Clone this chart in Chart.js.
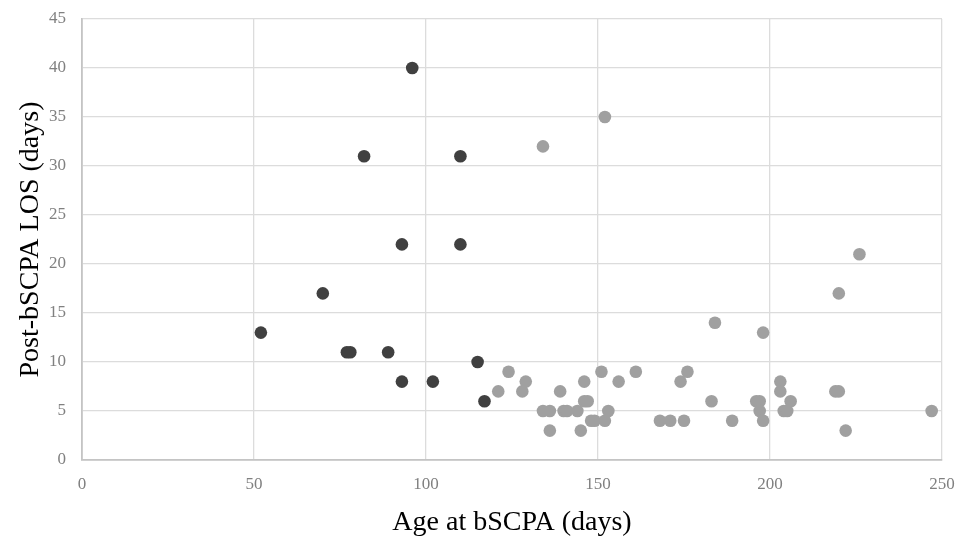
<!DOCTYPE html>
<html lang="en">
<head>
    <meta charset="UTF-8">
    <title>Post-bSCPA LOS vs Age at bSCPA</title>
    <script src="https://cdn.jsdelivr.net/npm/chart.js"></script>
    <style>
        html, body {
            margin: 0;
            padding: 0;
            background: #ffffff;
        }
        #wrap {
            width: 972px;
            height: 539px;
        }
    </style>
</head>
<body>
    <div id="wrap"><canvas id="scatterChart" width="972" height="539"></canvas></div>

    <script>
        // Dark group (age in days, post-bSCPA length of stay in days)
        const darkAge = [52, 70, 77, 78, 82, 89, 93, 93, 96, 102, 110, 110, 115, 117];
        const darkLos = [13, 17, 11, 11, 31, 11, 22, 8, 40, 8, 31, 22, 10, 6];

        // Light group
        const lightAge = [121, 124, 128, 129, 134, 134, 136, 136, 139, 140, 141, 144, 145, 146,
                          146, 147, 148, 149, 151, 152, 152, 153, 156, 161, 168, 171, 174, 175,
                          176, 183, 184, 189, 196, 197, 197, 198, 198, 203, 203, 204, 205, 206,
                          219, 220, 220, 222, 226, 247];
        const lightLos = [7, 9, 7, 8, 32, 5, 5, 3, 7, 5, 5, 5, 3, 8,
                          6, 6, 4, 4, 9, 35, 4, 5, 8, 9, 4, 4, 8, 4,
                          9, 6, 14, 4, 6, 6, 5, 13, 4, 8, 7, 5, 5, 6,
                          7, 7, 17, 3, 21, 5];

        const xTicks = [0, 50, 100, 150, 200, 250];
        const yTicks = [0, 5, 10, 15, 20, 25, 30, 35, 40, 45];

        const toPoints = (xs, ys) => xs.map((x, i) => ({ x: x, y: ys[i] }));

        const serif = "'Liberation Serif', 'Times New Roman', serif";

        const ctx = document.getElementById('scatterChart').getContext('2d');
        new Chart(ctx, {
            type: 'scatter',
            data: {
                datasets: [
                    {
                        label: 'Group A',
                        data: toPoints(darkAge, darkLos),
                        backgroundColor: '#404040',
                        borderWidth: 0,
                        pointRadius: 6.3,
                        pointHoverRadius: 6.3
                    },
                    {
                        label: 'Group B',
                        data: toPoints(lightAge, lightLos),
                        backgroundColor: '#a0a0a0',
                        borderWidth: 0,
                        pointRadius: 6.3,
                        pointHoverRadius: 6.3
                    }
                ]
            },
            options: {
                responsive: false,
                animation: false,
                layout: {
                    padding: { left: 0, right: 30, top: 19, bottom: 0 }
                },
                plugins: {
                    legend: { display: false },
                    tooltip: { enabled: false }
                },
                scales: {
                    x: {
                        type: 'linear',
                        min: 0,
                        max: 250,
                        afterFit: (scale) => {
                            scale.height = 79;
                            scale.paddingLeft = 0;
                            scale.paddingRight = 0;
                        },
                        afterBuildTicks: (scale) => {
                            scale.ticks = xTicks.map(v => ({ value: v }));
                        },
                        grid: {
                            color: '#dcdcdc',
                            lineWidth: 1.3,
                            drawTicks: false
                        },
                        border: { color: '#c4c4c4', width: 1.8 },
                        ticks: {
                            color: '#808080',
                            padding: 14,
                            font: { family: serif, size: 17 }
                        },
                        title: {
                            display: true,
                            text: 'Age at bSCPA (days)',
                            color: '#000000',
                            padding: { top: 0, bottom: 0 },
                            font: { family: serif, size: 28 }
                        }
                    },
                    y: {
                        type: 'linear',
                        min: 0,
                        max: 45,
                        afterFit: (scale) => {
                            scale.width = 82;
                            scale.paddingTop = 0;
                            scale.paddingBottom = 0;
                        },
                        afterBuildTicks: (scale) => {
                            scale.ticks = yTicks.map(v => ({ value: v }));
                        },
                        grid: {
                            color: '#dcdcdc',
                            lineWidth: 1.3,
                            drawTicks: false
                        },
                        border: { color: '#c4c4c4', width: 1.8 },
                        ticks: {
                            color: '#808080',
                            padding: 16,
                            font: { family: serif, size: 17 }
                        },
                        title: {
                            display: true,
                            text: 'Post-bSCPA LOS (days)',
                            color: '#000000',
                            padding: { top: 14, bottom: 0 },
                            font: { family: serif, size: 28 }
                        }
                    }
                }
            }
        });
    </script>
</body>
</html>
